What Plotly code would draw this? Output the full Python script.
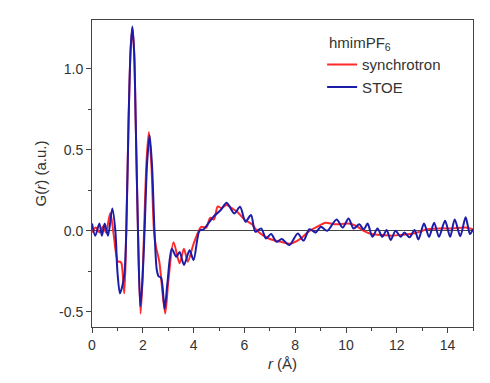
import plotly.graph_objects as go

# STOE (blue) data points
r_stoe = [0.0, 0.13, 0.29, 0.39, 0.5, 0.63, 0.8, 0.92, 1.0, 1.1, 1.18, 1.28, 1.35, 1.44, 1.52, 1.59, 1.66, 1.72,
          1.81, 1.9, 1.98, 2.07, 2.17, 2.27, 2.37, 2.46, 2.55, 2.62, 2.72, 2.86, 2.97, 3.14, 3.32, 3.45, 3.62,
          3.84, 4.0, 4.23, 4.4, 4.55, 4.8, 5.08, 5.3, 5.6, 5.83, 6.04, 6.26, 6.43, 6.66, 6.85, 7.05, 7.27,
          7.47, 7.77, 8.1, 8.33, 8.56, 8.8, 9.01, 9.26, 9.63, 9.87, 10.1, 10.3, 10.52, 10.7, 10.85,
          11.04, 11.24, 11.43, 11.6, 11.76, 11.95, 12.15, 12.3, 12.5, 12.7, 12.85, 13.07, 13.27,
          13.47, 13.66, 13.9, 14.1, 14.28, 14.5, 14.71, 14.88, 15.0]
g_stoe = [0.045, -0.03, 0.045, -0.03, 0.045, -0.03, 0.138, 0.0, -0.25, -0.386, -0.35, -0.26, 0.0, 0.68, 1.12, 1.26, 1.1, 0.68,
          0.0, -0.465, -0.32, 0.0, 0.42, 0.59, 0.38, 0.0, -0.24, -0.28, -0.29, -0.48, -0.32, -0.11, -0.16, -0.13, -0.21,
          -0.12, -0.18, 0.0, 0.01, 0.04, 0.09, 0.13, 0.173, 0.107, 0.148, 0.056, 0.097, -0.006, 0.015, -0.047, -0.02, -0.068,
          -0.05, -0.088, -0.016, -0.06, 0.01, -0.01, 0.025, 0.0, 0.07, 0.02, 0.076, 0.014, 0.04, 0.008, 0.045,
          -0.037, 0.014, -0.037, 0.005, -0.057, 0.0, -0.037, -0.01, -0.04, 0.005, -0.053, 0.045, -0.037,
          0.05, -0.037, 0.062, -0.037, 0.07, -0.033, 0.083, -0.02, 0.01]

# synchrotron (red) data points
r_sync = [0.0, 0.15, 0.3, 0.45, 0.55, 0.72, 0.85, 1.02, 1.1, 1.16, 1.27, 1.35, 1.44, 1.52, 1.59, 1.66, 1.72,
          1.81, 1.91, 1.98, 2.05, 2.15, 2.24, 2.34, 2.44, 2.52, 2.65, 2.88, 3.0, 3.21, 3.45, 3.62, 3.77, 4.0,
          4.3, 4.5, 4.65, 4.8, 4.95, 5.1, 5.3, 5.5, 5.7, 6.0, 6.3, 6.5, 6.75, 7.0, 7.5, 7.8, 8.2, 8.56, 8.8,
          9.2, 9.4, 9.6, 10.1, 10.4, 10.7, 11.0, 11.5, 11.8, 12.2, 12.7, 13.2, 13.7, 14.2, 14.7, 15.0]
g_sync = [-0.01, 0.02, -0.01, 0.03, -0.01, 0.11, -0.02, -0.19, -0.19, -0.2, -0.385, 0.0, 0.68, 1.11, 1.25, 1.1, 0.68,
          0.0, -0.51, -0.33, 0.0, 0.44, 0.61, 0.4, 0.0, -0.1, -0.19, -0.51, -0.32, -0.07, -0.2, -0.11, -0.19, -0.08,
          0.025, 0.02, 0.08, 0.07, 0.15, 0.14, 0.16, 0.14, 0.12, 0.07, 0.04, 0.0, -0.03, -0.05, -0.07, -0.08, -0.05, 0.0, 0.02,
          0.05, 0.045, 0.04, 0.045, 0.03, 0.0, -0.02, -0.027, -0.03, -0.025, -0.015, 0.01, 0.015, 0.015, 0.02, 0.01]

x_ticks = [0, 2, 4, 6, 8, 10, 12, 14]
y_ticks = [-0.5, 0.0, 0.5, 1.0]
y_tick_labels = ["-0.5", "0.0", "0.5", "1.0"]
legend_title = "hmimPF<sub>6</sub>"

FONT = "Liberation Sans, Arial, sans-serif"

fig = go.Figure()
fig.add_trace(go.Scatter(x=r_sync, y=g_sync, mode="lines", name="synchrotron",
                         line=dict(color="#ff2a2a", width=2, shape="spline", smoothing=0.8)))
fig.add_trace(go.Scatter(x=r_stoe, y=g_stoe, mode="lines", name="STOE",
                         line=dict(color="#1c1ca8", width=2, shape="spline", smoothing=0.8)))

fig.add_annotation(x=0.617, y=0.925, xref="paper", yref="paper", xanchor="left", yanchor="middle",
                   text=legend_title, showarrow=False, font=dict(size=15, color="#333333"))

# page body has an 8 px margin, so the figure is 8 px smaller and margins shifted
fig.update_layout(
    width=482, height=375,
    margin=dict(l=84, r=17, t=12, b=56, autoexpand=False),
    paper_bgcolor="white", plot_bgcolor="white",
    font=dict(family=FONT, size=14, color="#333333"),
    showlegend=True,
    legend=dict(x=0.604, y=0.908, xanchor="left", yanchor="top",
                bgcolor="rgba(0,0,0,0)", font=dict(size=15, color="#333333"),
                tracegroupgap=0, itemwidth=30),
    xaxis=dict(range=[0, 15], tickvals=x_ticks, ticks="outside", ticklen=5, tickwidth=1,
               tickcolor="#444", showline=True, linecolor="#444", linewidth=1, mirror=True,
               showgrid=False, zeroline=False, automargin=False,
               minor=dict(dtick=1, tick0=0, ticks="outside", ticklen=3, tickcolor="#444", showgrid=False),
               title=dict(text="<i>r</i> (Å)", font=dict(size=15), standoff=6),
               tickfont=dict(size=14)),
    yaxis=dict(range=[-0.593, 1.30], tickvals=y_ticks, ticktext=y_tick_labels, ticks="outside",
               ticklen=5, tickwidth=1, tickcolor="#444", showline=True, linecolor="#444",
               linewidth=1, mirror=True, showgrid=False, automargin=False,
               zeroline=True, zerolinecolor="#444", zerolinewidth=1.2,
               minor=dict(tickvals=[-0.25, 0.25, 0.75], ticks="outside", ticklen=3, tickcolor="#444", showgrid=False),
               title=dict(text="G(<i>r</i>) (a.u.)", font=dict(size=15), standoff=8),
               tickfont=dict(size=14)),
)

fig.write_html("out.html")
